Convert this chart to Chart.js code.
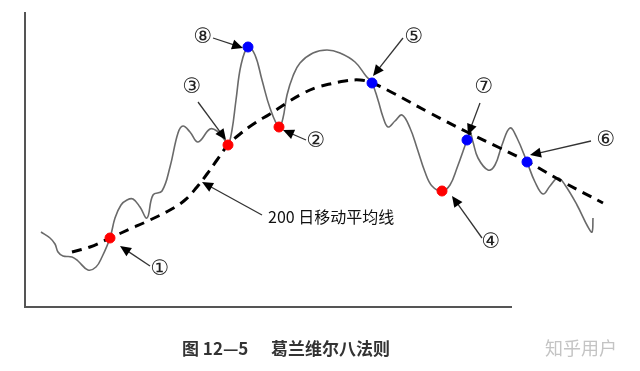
<!DOCTYPE html>
<html>
<head>
<meta charset="utf-8">
<script src="https://cdn.jsdelivr.net/npm/chart.js@4/dist/chart.umd.min.js"></script>
<style>
html,body{margin:0;padding:0;background:#fff;}
canvas{display:block;}
</style>
</head>
<body>
<canvas id="c" width="640" height="371"></canvas>
<script>
// Price path (time index, price)
const priceX = [16,25,30,33,38,47,53,63,71,77,85,90,96,102,108,115,122,128,137,145,153,158,165,173,185,192,199,203,207,211,216,223,230,237,245,254,258,262,268,275,288,302,315,330,341,347,353,358,363,370,377,385,392,400,407,417,425,432,442,445,448,453,463,470,477,485,492,502,510,518,525,533,540,552,563,567,568];
const priceY = [75,69,63,55,51,50,46,37,40,50,69,89,102,107,108,100,89,112,116,140,174,181,175,165,178,176,168,162,177,207,242,260,252,227,199,180,189,212,231,244,254,257,254,245,231,224,207,190,180,186,192,179,159,135,121,116,122,139,167,175,165,149,137,142,162,179,169,145,125,113,121,129,122,102,80,75,89];
// 200-day moving average
const maX = [47,65,85,105,125,145,160,172,182,192,203,215,230,245,260,275,290,305,320,335,347,368,405,442,475,503,540,578];
const maY = [55,60,69,78,87,97,107,120,133,147,162,173,184,193,203,212,219,223,226,227,224,214,194,175,159,145,124,104];
// Granville signals
const signalLabels = ['①','②','③','④','⑤','⑥','⑦','⑧'];
const signalX = [85,254,203,417,347,502,442,223];
const signalY = [69,180,162,116,224,145,167,260];
const signalType = ['buy','buy','buy','buy','sell','sell','sell','sell'];
// Label positions and arrow tails/heads (in data units)
const labelX = [135,291,167,466,389,581,459,178];
const labelY = [37,165,219,64,269,166,219,269];
const arrowFromX = [125,281,173,457,378,566,455,188];
const arrowFromY = [41,167,205,69,269,166,204,269];
const arrowToX = [95,258,201,427,348,505,443,218];
const arrowToY = [61,177,167,111,231,152,172,259];
const maLabel = '200 日移动平均线';
const maLabelPos = [243,90];
const maArrow = [237,92,177,125];
const axisXEnd = 487;
const caption1 = '图 12—5';
const caption2 = '葛兰维尔八法则';
const watermark = '知乎用户';

const price = priceX.map((x,i)=>({x, y: priceY[i]}));
const ma = maX.map((x,i)=>({x, y: maY[i]}));
const sig = signalX.map((x,i)=>({x, y: signalY[i]}));
const sigColors = signalType.map(t => t === 'buy' ? '#ff0000' : '#0000ff');

const overlay = {
  id: 'overlay',
  afterDatasetsDraw(chart) {
    const ctx = chart.ctx;
    const xs = chart.scales.x, ys = chart.scales.y;
    const X = v => xs.getPixelForValue(v), Y = v => ys.getPixelForValue(v);
    ctx.save();
    // axes
    ctx.strokeStyle = '#555';
    ctx.lineWidth = 2;
    ctx.beginPath();
    ctx.moveTo(X(0), Y(ys.max));
    ctx.lineTo(X(0), Y(0));
    ctx.lineTo(X(axisXEnd), Y(0));
    ctx.stroke();

    function arrow(x1,y1,x2,y2){
      const a = Math.atan2(y2-y1, x2-x1);
      const L = 11, W = 5;
      ctx.strokeStyle = '#333';
      ctx.lineWidth = 1.3;
      ctx.beginPath();
      ctx.moveTo(x1,y1);
      ctx.lineTo(x2 - Math.cos(a)*L*0.8, y2 - Math.sin(a)*L*0.8);
      ctx.stroke();
      ctx.fillStyle = '#000';
      ctx.beginPath();
      ctx.moveTo(x2,y2);
      ctx.lineTo(x2 - Math.cos(a)*L - Math.sin(a)*W, y2 - Math.sin(a)*L + Math.cos(a)*W);
      ctx.lineTo(x2 - Math.cos(a)*L + Math.sin(a)*W, y2 - Math.sin(a)*L - Math.cos(a)*W);
      ctx.closePath();
      ctx.fill();
    }
    for (let i = 0; i < signalLabels.length; i++) {
      arrow(X(arrowFromX[i]), Y(arrowFromY[i]), X(arrowToX[i]), Y(arrowToY[i]));
    }
    arrow(X(maArrow[0]), Y(maArrow[1]), X(maArrow[2]), Y(maArrow[3]));

    ctx.fillStyle = '#222';
    ctx.textBaseline = 'middle';
    ctx.textAlign = 'center';
    ctx.font = '21px "DejaVu Sans"';
    for (let i = 0; i < signalLabels.length; i++) {
      ctx.fillText(signalLabels[i], X(labelX[i]), Y(labelY[i]));
    }
    ctx.textAlign = 'left';
    ctx.font = '16px "Noto Sans CJK SC"';
    ctx.fillStyle = '#111';
    ctx.fillText(maLabel, X(maLabelPos[0]), Y(maLabelPos[1]));

    // caption
    ctx.font = 'bold 17px "Noto Sans CJK SC"';
    ctx.fillStyle = '#333';
    ctx.fillText(caption1, 182, 349);
    ctx.fillText(caption2, 271, 349);
    ctx.font = '18px "Noto Sans CJK SC"';
    ctx.fillStyle = '#c4c4c4';
    ctx.fillText(watermark, 545, 348);
    ctx.restore();
  }
};

new Chart(document.getElementById('c'), {
  type: 'scatter',
  data: {
    datasets: [
      { data: price, showLine: true, borderColor: '#6a6a6a', borderWidth: 1.6, pointRadius: 0,
        tension: 0.4, fill: false, order: 3 },
      { data: ma, showLine: true, borderColor: '#000', borderWidth: 3, borderDash: [10,7], pointRadius: 0,
        tension: 0.4, fill: false, order: 2 },
      { data: sig, showLine: false, pointRadius: 5, pointHoverRadius: 5, pointBackgroundColor: sigColors,
        pointBorderColor: sigColors, pointBorderWidth: 1, order: 1 }
    ]
  },
  options: {
    responsive: false,
    animation: false,
    devicePixelRatio: 1,
    layout: { padding: { left: 25, right: 25, top: 12, bottom: 64 } },
    plugins: { legend: { display: false }, tooltip: { enabled: false } },
    scales: {
      x: { type: 'linear', min: 0, max: 590, display: false },
      y: { type: 'linear', min: 0, max: 295, display: false }
    }
  },
  plugins: [overlay]
});
</script>
</body>
</html>
